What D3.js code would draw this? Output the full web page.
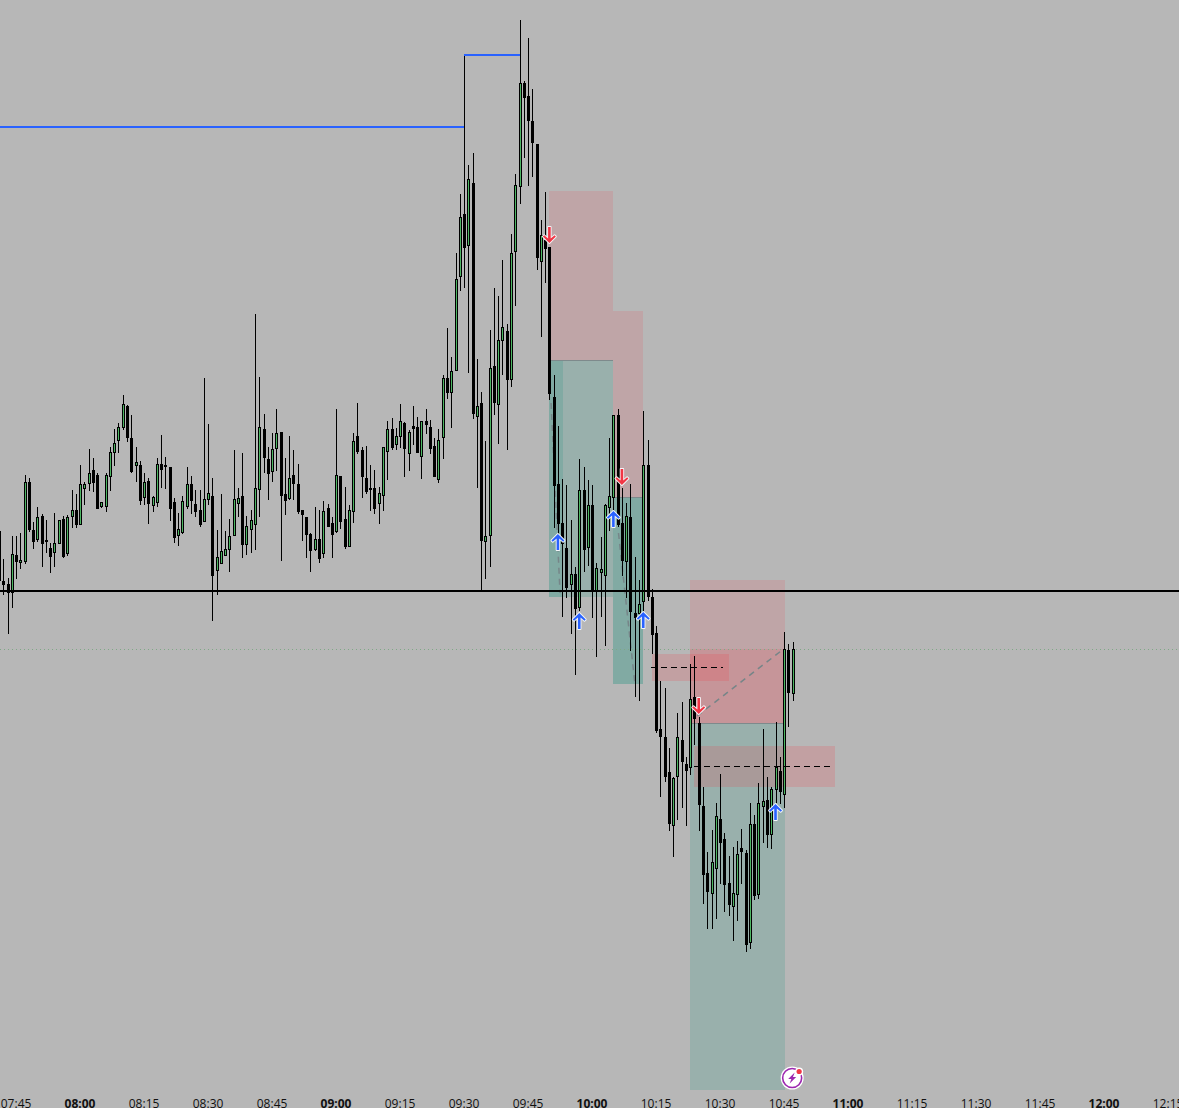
<!DOCTYPE html>
<html><head><meta charset="utf-8">
<script src="https://cdn.jsdelivr.net/npm/d3@7"></script>
<style>html,body{margin:0;padding:0;background:#b7b7b7;overflow:hidden}svg{display:block}</style>
</head><body><div id="chart"></div>
<script>
// One-minute candles, first bar 07:41. Prices in chart points.
const firstMinute = 461;
const opens = [577,527,524,516,553,546,547,626,578,569,592,568,560,556,565,589,555,592,598,584,620,625,638,633,602,602,632,656,668,681,702,670,643,643,611,627,603,606,644,643,641,606,573,576,602,624,604,598,587,609,612,538,545,553,559,573,605,612,564,579,584,619,679,649,637,660,676,614,610,633,624,598,591,574,559,569,555,600,585,577,632,589,562,597,672,658,630,620,620,605,613,657,679,664,672,685,655,682,681,652,687,681,662,629,671,730,716,738,832,894,863,925,692,705,567,573,742,704,768,777,729,857,922,1025,1012,987,964,847,868,861,711,624,585,560,524,534,501,618,561,603,518,536,533,601,611,693,585,547,591,495,495,507,643,511,475,379,371,336,283,332,368,344,341,411,385,302,235,215,240,289,269,225,202,214,260,255,166,284,214,302,308,274,319,337,314,458,415];
const highs = [577,549,530,572,572,575,633,630,586,601,594,588,565,595,588,592,593,618,614,643,626,659,650,635,606,635,661,679,685,713,703,693,661,647,635,630,612,650,673,651,641,610,595,612,641,632,618,618,730,684,630,578,614,577,589,658,620,655,592,598,794,731,694,661,675,699,676,650,672,658,644,598,591,575,601,598,607,604,591,699,632,621,603,675,705,661,662,643,638,621,661,687,690,680,704,686,678,702,691,687,699,688,670,679,733,780,751,855,914,1053,943,955,749,716,667,778,820,812,848,784,874,934,1088,1027,1070,1019,964,888,916,861,733,682,629,623,588,541,649,641,628,623,545,571,604,670,693,699,620,605,624,551,528,697,668,519,482,427,420,360,331,395,406,351,444,452,391,321,256,278,305,334,275,252,261,267,279,258,305,293,325,379,331,321,386,351,476,464,466];
const lows = [528,514,475,501,530,540,545,577,560,567,542,556,536,542,565,551,553,581,581,584,604,618,617,600,601,597,618,643,656,679,667,636,627,604,604,585,597,602,621,620,588,566,563,575,600,595,592,582,587,604,488,514,545,553,537,573,592,551,554,556,559,592,636,609,627,638,548,594,609,609,595,568,551,537,558,546,551,582,551,576,580,560,562,586,655,611,615,598,595,585,598,629,659,659,661,632,638,664,656,630,675,655,632,626,650,710,681,738,818,821,736,690,621,518,530,542,694,665,734,659,722,803,905,951,923,932,839,772,826,709,581,568,492,511,475,434,498,537,543,491,452,492,463,578,593,582,533,511,458,412,408,490,508,455,376,312,327,278,252,289,301,283,334,364,278,205,180,180,190,225,197,193,168,188,225,157,160,209,210,266,261,260,306,305,301,382,408];
const closes = [528,524,516,554,547,548,626,579,567,591,565,567,552,565,588,552,591,598,584,624,624,635,626,600,606,633,656,665,681,704,671,637,646,608,626,605,611,644,639,642,600,571,579,607,624,608,597,584,609,615,533,551,557,559,572,609,610,564,582,588,620,681,651,635,659,675,613,608,630,625,597,594,574,558,569,550,597,582,574,633,587,562,598,667,657,632,617,619,600,615,661,679,661,672,687,660,676,680,656,687,684,660,632,668,730,716,737,829,891,861,929,695,702,568,572,740,706,768,781,729,855,923,1025,1011,988,966,851,873,860,715,623,585,565,521,534,500,618,559,603,518,540,539,603,612,693,584,548,592,497,491,504,643,512,474,378,372,332,285,330,371,347,338,409,390,304,234,217,246,292,266,224,204,215,254,257,164,284,213,305,307,274,319,341,317,459,416,459];

// Axis
const tickMinutes = [465,480,495,510,525,540,555,570,585,600,615,630,645,660,675,690,705,720,735];
const tickLabels  = ["07:45","08:00","08:15","08:30","08:45","09:00","09:15","09:30","09:45","10:00","10:15","10:30","10:45","11:00","11:15","11:30","11:45","12:00","12:15"];
const boldTicks   = ["08:00","09:00","10:00","11:00","12:00"];

// Levels
const blueStarts = [400,570];
const blueEnds   = [570,583];
const bluePrices = [981,1053];
const closeLevel = 517;
const dottedLevel = 459;

// Position tool boxes: start minute, end minute, top price, bottom price
const greenBoxes = [[590,605.0,748,511],[590,593.25,748,511],[605,612,611,424],[605,612,611,424],[623,645.2,385,18]];
const redBoxes   = [[590,605,917,748],[605,612,797,611],[623,645.2,528,385],[623,645.2,459,385]];
const pinkBoxes  = [[614,632,454,427],[624,657,362,321]];
const dashLevels = [[613.7,630.6,441],[623.8,656.5,342]];

// Trade connectors: minute, price, minute, price
const tradeLines = [[590.4,705,592.5,515],[606.2,575,610,426],[624.6,392,644.9,459]];

// Trade arrows
const upMinutes   = [592,597,605,612,643];
const upPrices    = [566,487,589,488,296];
const downMinutes = [590,607,625];
const downPrices  = [873,631,402];

const W = 1179, H = 1108;
const x = d3.scaleLinear().domain([480,720]).range([80.05,1104.05]);
const y = d3.scaleLinear().domain([0,1108]).range([1108,0]);
const px = m => Math.round(x(m));
const py = p => Math.round(y(p));

const svg = d3.select("#chart").append("svg").attr("width",W).attr("height",H).attr("viewBox",`0 0 ${W} ${H}`);
svg.append("rect").attr("width",W).attr("height",H).attr("fill","#b7b7b7");

const boxLayer = svg.append("g").attr("shape-rendering","crispEdges");
function boxes(data, fill, op){
  boxLayer.append("g").selectAll("rect").data(data).join("rect")
    .attr("x",d=>px(d[0])).attr("width",d=>px(d[1])-px(d[0]))
    .attr("y",d=>py(d[2])).attr("height",d=>py(d[3])-py(d[2]))
    .attr("fill",fill).attr("fill-opacity",op);
}
boxes(redBoxes,"#f23645",0.14);
boxes(greenBoxes,"#239682",0.2);
boxes(pinkBoxes,"#f23645",0.18);
// midline where the upper and lower box meet
boxLayer.append("g").selectAll("line").data([redBoxes[0],redBoxes[1],redBoxes[2]]).join("line")
  .attr("x1",d=>px(d[0])).attr("x2",d=>px(d[1]))
  .attr("y1",d=>py(d[3])+.5).attr("y2",d=>py(d[3])+.5)
  .attr("stroke","#7e8a8c").attr("stroke-width",1);

// dotted level
svg.append("line").attr("x1",0).attr("x2",W).attr("y1",py(dottedLevel)+.5).attr("y2",py(dottedLevel)+.5)
  .attr("stroke","#7fa886").attr("stroke-width",1).attr("stroke-dasharray","1,3").attr("shape-rendering","crispEdges");

// trade connectors
svg.append("g").selectAll("line").data(tradeLines).join("line")
  .attr("x1",d=>x(d[0])).attr("y1",d=>y(d[1])).attr("x2",d=>x(d[2])).attr("y2",d=>y(d[3]))
  .attr("stroke","#768588").attr("stroke-width",1.5).attr("stroke-dasharray","6,5");

// candles
const candles = d3.range(opens.length).map(i=>({m:firstMinute+i,o:opens[i],h:highs[i],l:lows[i],c:closes[i]}));
const cg = svg.append("g").attr("shape-rendering","crispEdges").selectAll("g").data(candles).join("g");
cg.append("line")
  .attr("x1",d=>px(d.m)+.5).attr("x2",d=>px(d.m)+.5)
  .attr("y1",d=>py(d.h)).attr("y2",d=>py(d.l)+1)
  .attr("stroke","#000").attr("stroke-width",1);
cg.append("rect")
  .attr("x",d=>px(d.m)-.5).attr("width",2)
  .attr("y",d=>py(Math.max(d.o,d.c))+.5)
  .attr("height",d=>Math.max(py(Math.min(d.o,d.c))-py(Math.max(d.o,d.c)),1))
  .attr("fill",d=>d.c>d.o?"#4db763":"#000").attr("stroke","#000").attr("stroke-width",1);

// dashed levels
svg.append("g").selectAll("line").data(dashLevels).join("line")
  .attr("x1",d=>x(d[0])).attr("x2",d=>x(d[1]))
  .attr("y1",d=>py(d[2])+.5).attr("y2",d=>py(d[2])+.5)
  .attr("stroke","#000").attr("stroke-width",1).attr("stroke-dasharray","6,4").attr("shape-rendering","crispEdges");

// blue steps
svg.append("g").selectAll("line").data(bluePrices).join("line")
  .attr("x1",(d,i)=>px(blueStarts[i])).attr("x2",(d,i)=>px(blueEnds[i]))
  .attr("y1",d=>py(d)).attr("y2",d=>py(d))
  .attr("stroke","#2962ff").attr("stroke-width",2).attr("shape-rendering","crispEdges");

// close level
svg.append("line").attr("x1",0).attr("x2",W).attr("y1",py(closeLevel)).attr("y2",py(closeLevel))
  .attr("stroke","#000").attr("stroke-width",2).attr("shape-rendering","crispEdges");

// arrows
const arrowPath = "M0,-8 L6.5,-1.5 L5.2,-0.2 L1.3,-3.6 L1.3,8 L-1.3,8 L-1.3,-3.6 L-5.2,-0.2 L-6.5,-1.5 Z";
function arrows(ms,ps,color,rot){
  svg.append("g").selectAll("path").data(ms).join("path")
    .attr("d",arrowPath)
    .attr("transform",(m,i)=>`translate(${x(m)},${y(ps[i])}) rotate(${rot})`)
    .attr("fill",color).attr("stroke","#f4f6f8").attr("stroke-width",1.8).attr("paint-order","stroke").attr("stroke-linejoin","round");
}
arrows(upMinutes,upPrices,"#2962ff",0);
arrows(downMinutes,downPrices,"#f23645",180);

// axis
const axis = d3.axisBottom(x).tickValues(tickMinutes).tickSize(0).tickPadding(0).tickFormat((d,i)=>tickLabels[i]);
const ag = svg.append("g").attr("transform","translate(-0.5,1097)").call(axis);
ag.select(".domain").remove();
ag.selectAll("text").attr("fill","#111").attr("dy","11px")
  .style("font-family","'Open Sans',sans-serif").style("font-size","12px")
  .style("font-weight",(d,i)=>boldTicks.includes(tickLabels[i])?"700":"400");

// notification badge
const badge = svg.append("g").attr("transform",`translate(${x(646.9)},1078)`);
badge.append("circle").attr("r",11.5).attr("fill","#fff");
badge.append("circle").attr("r",9.5).attr("fill","#fff").attr("stroke","#9c27b0").attr("stroke-width",1.6);
badge.append("path").attr("d","M2.5,-5.5 L-4,1 L-0.8,1 L-2.5,5.5 L4,-1 L0.8,-1 Z").attr("fill","#9c27b0");
badge.append("circle").attr("cx",7).attr("cy",-6.5).attr("r",4).attr("fill","#fff");
badge.append("circle").attr("cx",7).attr("cy",-6.5).attr("r",2.6).attr("fill","#f23645");
</script></body></html>
